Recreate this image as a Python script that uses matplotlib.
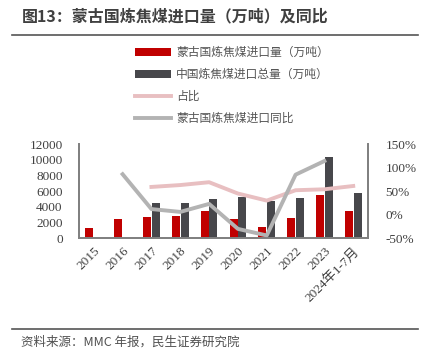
import matplotlib
matplotlib.use('Agg')
import matplotlib.pyplot as plt
from matplotlib.lines import Line2D
import numpy as np

plt.rcParams['font.family'] = ['Liberation Serif', 'Noto Sans CJK SC']

# Data
years = ['2015', '2016', '2017', '2018', '2019', '2020', '2021', '2022', '2023', '2024年1-7月']
mongolia_import = [1300, 2400, 2670, 2840, 3440, 2420, 1440, 2620, 5470, 3510]
china_import = [np.nan, np.nan, 4490, 4500, 5000, 5290, 4750, 5090, 10340, 5760]
share_pct = [np.nan, np.nan, 59, 63, 69, 45, 30, 52, 54, 61]
yoy_pct = [np.nan, 86, 12, 6, 23, -30, -44, 85, 114, np.nan]

red = '#C00000'
dark = '#47474B'
pink = '#E8BFC1'
gray = '#B3B3B3'
cjk = ['Noto Sans CJK SC', 'DejaVu Sans']

fig = plt.figure(figsize=(4.29, 3.57), dpi=100)
ax = fig.add_axes([0.185, 0.3325, 0.672, 0.264])
ax2 = ax.twinx()

x = np.arange(len(years))
w = 0.28
b1 = ax.bar(x - 0.15, mongolia_import, w, color=red, label='蒙古国炼焦煤进口量（万吨）')
b2 = ax.bar(x + 0.15, china_import, w, color=dark, label='中国炼焦煤进口总量（万吨）')
l1, = ax2.plot(x, share_pct, color=pink, lw=2.8, label='占比')
l2, = ax2.plot(x, yoy_pct, color=gray, lw=2.8, label='蒙古国炼焦煤进口同比')

ax.set_xlim(-0.5, len(years) - 0.5)
ax.set_ylim(0, 12000)
ax.set_yticks(range(0, 12001, 2000))
ax2.set_ylim(-50, 150)
ax2.set_yticks(range(-50, 151, 50))
ax2.set_yticklabels([f'{v}%' for v in range(-50, 151, 50)])

ax.set_xticks(x)
ax.set_xticklabels(years, rotation=45, ha='right', rotation_mode='anchor')

for a in (ax, ax2):
    a.tick_params(length=0, labelsize=9.5, labelcolor='#404040')
    a.spines['top'].set_visible(False)
    for s in ('left', 'right', 'bottom'):
        a.spines[s].set_color('#808080')
        a.spines[s].set_linewidth(1.3)
ax.tick_params(axis='y', pad=12)
ax2.tick_params(axis='y', pad=13)
ax.tick_params(axis='x', pad=5)
ax2.set_zorder(ax.get_zorder() + 1)
ax2.patch.set_visible(False)

handles = [b1, b2, l1, l2]
leg = fig.legend(handles, [h.get_label() for h in handles], loc='upper left',
                 bbox_to_anchor=(0.291, 0.9), frameon=False, handlelength=3.0,
                 handleheight=0.6, handletextpad=0.45, labelspacing=0.75,
                 prop={'family': cjk, 'size': 8.5})
for t in leg.get_texts():
    t.set_color('#555555')

# Title and source
fig.text(0.05, 0.955, '图13：蒙古国炼焦煤进口量（万吨）及同比', fontsize=11.5,
         fontweight='bold', color='#404040', family=cjk, va='center')
fig.add_artist(Line2D([0.028, 0.975], [0.903, 0.903], color='#555555', lw=1.2))
fig.add_artist(Line2D([0.028, 0.975], [0.078, 0.078], color='#555555', lw=1.2))
fig.text(0.05, 0.042, '资料来源：MMC 年报，民生证券研究院', fontsize=9,
         color='#505050', family=cjk, va='center')

fig.savefig('out.png', dpi=100)
